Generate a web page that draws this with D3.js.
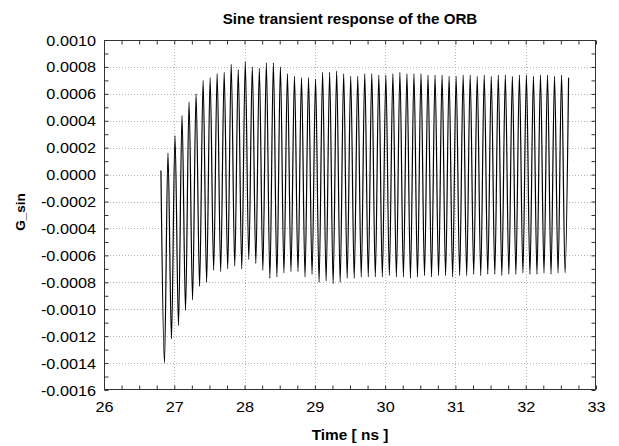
<!DOCTYPE html>
<html>
<head>
<meta charset="utf-8">
<script src="https://cdn.jsdelivr.net/npm/d3@7"></script>
<style>
  html, body { margin: 0; padding: 0; background: #ffffff; }
  svg { display: block; font-family: "Liberation Sans", Arial, sans-serif; }
</style>
</head>
<body>
<svg id="chart" width="619" height="446"></svg>
<script>
// ---------------- DATA ----------------
const titleText = "Sine transient response of the ORB";
const xLabelText = "Time [ ns ]";
const yLabelText = "G_sin";

const xTickValues = [26, 27, 28, 29, 30, 31, 32, 33];
const yTickValues = [0.0010, 0.0008, 0.0006, 0.0004, 0.0002, 0.0000, -0.0002, -0.0004,
                     -0.0006, -0.0008, -0.0010, -0.0012, -0.0014, -0.0016];
const xMinorTicks = [26, 26.25, 26.5, 26.75, 27, 27.25, 27.5, 27.75, 28, 28.25, 28.5, 28.75,
                     29, 29.25, 29.5, 29.75, 30, 30.25, 30.5, 30.75, 31, 31.25, 31.5, 31.75,
                     32, 32.25, 32.5, 32.75, 33];
const yMinorTicks = [0.0010, 0.0009, 0.0008, 0.0007, 0.0006, 0.0005, 0.0004, 0.0003, 0.0002,
                     0.0001, 0.0000, -0.0001, -0.0002, -0.0003, -0.0004, -0.0005, -0.0006,
                     -0.0007, -0.0008, -0.0009, -0.0010, -0.0011, -0.0012, -0.0013, -0.0014,
                     -0.0015, -0.0016];

// start of the recorded signal
const startTime = 26.81;
const startValue = 0.00003;

// successive minima of the response
const troughTimes = [26.86, 26.96, 27.06, 27.16, 27.26, 27.36, 27.46, 27.56, 27.66, 27.76,
                     27.86, 27.96, 28.06, 28.16, 28.26, 28.36, 28.46, 28.56, 28.66, 28.76,
                     28.86, 28.96, 29.06, 29.16, 29.26, 29.36, 29.46, 29.56, 29.66, 29.76,
                     29.86, 29.96, 30.06, 30.16, 30.26, 30.36, 30.46, 30.56, 30.66, 30.76,
                     30.86, 30.96, 31.06, 31.16, 31.26, 31.36, 31.46, 31.56, 31.66, 31.76,
                     31.86, 31.96, 32.06, 32.16, 32.26, 32.36, 32.46, 32.56];
const troughValues = [-0.00140, -0.00122, -0.00112, -0.00101, -0.00093, -0.00083, -0.00080, -0.00071, -0.00072, -0.00070,
                      -0.00068, -0.00070, -0.00063, -0.00066, -0.00071, -0.00077, -0.00076, -0.00073, -0.00072, -0.00072,
                      -0.00076, -0.00074, -0.00080, -0.00079, -0.00081, -0.00080, -0.00077, -0.00077, -0.00076, -0.00076,
                      -0.00076, -0.00076, -0.00075, -0.00076, -0.00076, -0.00077, -0.00076, -0.00075, -0.00076, -0.00075,
                      -0.00075, -0.00076, -0.00075, -0.00075, -0.00074, -0.00075, -0.00074, -0.00074, -0.00075, -0.00074,
                      -0.00074, -0.00073, -0.00074, -0.00074, -0.00073, -0.00074, -0.00073, -0.00073];

// successive maxima of the response
const peakTimes = [26.91, 27.01, 27.11, 27.21, 27.31, 27.41, 27.51, 27.61, 27.71, 27.81,
                   27.91, 28.01, 28.11, 28.21, 28.31, 28.41, 28.51, 28.61, 28.71, 28.81,
                   28.91, 29.01, 29.11, 29.21, 29.31, 29.41, 29.51, 29.61, 29.71, 29.81,
                   29.91, 30.01, 30.11, 30.21, 30.31, 30.41, 30.51, 30.61, 30.71, 30.81,
                   30.91, 31.01, 31.11, 31.21, 31.31, 31.41, 31.51, 31.61, 31.71, 31.81,
                   31.91, 32.01, 32.11, 32.21, 32.31, 32.41, 32.51, 32.61];
const peakValues = [0.00016, 0.00029, 0.00044, 0.00054, 0.00060, 0.00070, 0.00072, 0.00075, 0.00076, 0.00082,
                    0.00078, 0.00084, 0.00080, 0.00079, 0.00083, 0.00083, 0.00080, 0.00075, 0.00073, 0.00072,
                    0.00072, 0.00071, 0.00076, 0.00076, 0.00077, 0.00075, 0.00073, 0.00073, 0.00075, 0.00075,
                    0.00074, 0.00074, 0.00075, 0.00076, 0.00075, 0.00075, 0.00075, 0.00074, 0.00074, 0.00074,
                    0.00073, 0.00073, 0.00074, 0.00074, 0.00073, 0.00074, 0.00073, 0.00074, 0.00074, 0.00073,
                    0.00074, 0.00074, 0.00073, 0.00074, 0.00074, 0.00073, 0.00074, 0.00072];

// ---------------- LAYOUT ----------------
const plot = { left: 104, right: 596, top: 40, bottom: 390 };
const svg = d3.select("#chart");

const x = d3.scaleLinear().domain([26, 33]).range([plot.left, plot.right]);
const y = d3.scaleLinear().domain([-0.0016, 0.0010]).range([plot.bottom, plot.top]);

const loc = d3.formatLocale({ decimal: ".", thousands: ",", grouping: [3], currency: ["", ""], minus: "-" });
const yFmt = loc.format(".4f");
const xFmt = loc.format("d");
const stretch = 1.16;

svg.append("rect").attr("x", 0).attr("y", 0).attr("width", 619).attr("height", 446).attr("fill", "#ffffff");

// grid
const grid = svg.append("g").attr("class", "grid");
grid.selectAll("line.gx").data(xTickValues.filter(v => v > 26 && v < 33)).enter().append("line")
  .attr("x1", d => Math.round(x(d)) + 0.5).attr("x2", d => Math.round(x(d)) + 0.5)
  .attr("y1", plot.top).attr("y2", plot.bottom)
  .attr("stroke", "#b4b4b4").attr("stroke-width", 1).attr("stroke-dasharray", "1,2");
grid.selectAll("line.gy").data(yTickValues.filter(v => v > -0.0016 && v < 0.0010)).enter().append("line")
  .attr("y1", d => Math.round(y(d)) + 0.5).attr("y2", d => Math.round(y(d)) + 0.5)
  .attr("x1", plot.left).attr("x2", plot.right)
  .attr("stroke", "#b4b4b4").attr("stroke-width", 1).attr("stroke-dasharray", "1,2");

// minor ticks (inside, all four sides)
function styleTicks(g) {
  g.select(".domain").remove();
  g.selectAll("line").attr("stroke", "#333");
}
svg.append("g").attr("transform", `translate(${plot.left + 0.5},0)`)
  .call(d3.axisLeft(y).tickValues(yMinorTicks).tickSize(-4).tickFormat("")).call(styleTicks);
svg.append("g").attr("transform", `translate(${plot.right - 0.5},0)`)
  .call(d3.axisRight(y).tickValues(yMinorTicks).tickSize(-4).tickFormat("")).call(styleTicks);
svg.append("g").attr("transform", `translate(0,${plot.top + 0.5})`)
  .call(d3.axisTop(x).tickValues(xMinorTicks).tickSize(-4).tickFormat("")).call(styleTicks);
svg.append("g").attr("transform", `translate(0,${plot.bottom - 0.5})`)
  .call(d3.axisBottom(x).tickValues(xMinorTicks).tickSize(-4).tickFormat("")).call(styleTicks);

// labelled axes
const yAxisG = svg.append("g").attr("transform", `translate(${plot.left},0)`)
  .call(d3.axisLeft(y).tickValues(yTickValues).tickSize(0).tickPadding(0).tickFormat(yFmt));
yAxisG.select(".domain").remove();
yAxisG.selectAll("text")
  .attr("font-family", "'Liberation Sans', Arial, sans-serif").attr("font-size", 14)
  .attr("fill", "#000").attr("x", -8 / stretch).attr("dy", "0.36em")
  .attr("transform", `scale(${stretch},1)`);

const xAxisG = svg.append("g").attr("transform", `translate(0,${plot.bottom})`)
  .call(d3.axisBottom(x).tickValues(xTickValues).tickSize(0).tickPadding(0).tickFormat(xFmt));
xAxisG.select(".domain").remove();
xAxisG.selectAll("text")
  .attr("font-family", "'Liberation Sans', Arial, sans-serif").attr("font-size", 14)
  .attr("fill", "#000").attr("y", 22).attr("dy", 0)
  .attr("transform", `scale(${stretch},1)`);
// keep centred after stretching
xAxisG.selectAll(".tick").each(function(d) {
  d3.select(this).select("text").attr("x", 0);
});

// frame
svg.append("rect")
  .attr("x", plot.left + 0.5).attr("y", plot.top + 0.5)
  .attr("width", plot.right - plot.left - 1).attr("height", plot.bottom - plot.top - 1)
  .attr("fill", "none").attr("stroke", "#333").attr("stroke-width", 1);

// series: interleave extrema in time order
const series = [{ t: startTime, v: startValue }];
for (let i = 0; i < troughTimes.length; i++) {
  series.push({ t: troughTimes[i], v: troughValues[i] });
  if (i < peakTimes.length) series.push({ t: peakTimes[i], v: peakValues[i] });
}
const line = d3.line().x(d => x(d.t)).y(d => y(d.v)).curve(d3.curveMonotoneX);
svg.append("path").datum(series)
  .attr("d", line).attr("fill", "none").attr("stroke", "#000").attr("stroke-width", 1.2);

// titles
svg.append("text").attr("transform", `translate(350,24) scale(1.08,1)`)
  .attr("text-anchor", "middle").attr("font-size", 14).attr("font-weight", "bold")
  .attr("fill", "#000").text(titleText);
svg.append("text").attr("transform", `translate(350,440) scale(1.1,1)`)
  .attr("text-anchor", "middle").attr("font-size", 14).attr("font-weight", "bold")
  .attr("fill", "#000").text(xLabelText);
svg.append("text").attr("transform", `translate(25,212) rotate(-90)`)
  .attr("text-anchor", "middle").attr("font-size", 13.5).attr("font-weight", "bold")
  .attr("fill", "#000").text(yLabelText);
</script>
</body>
</html>
